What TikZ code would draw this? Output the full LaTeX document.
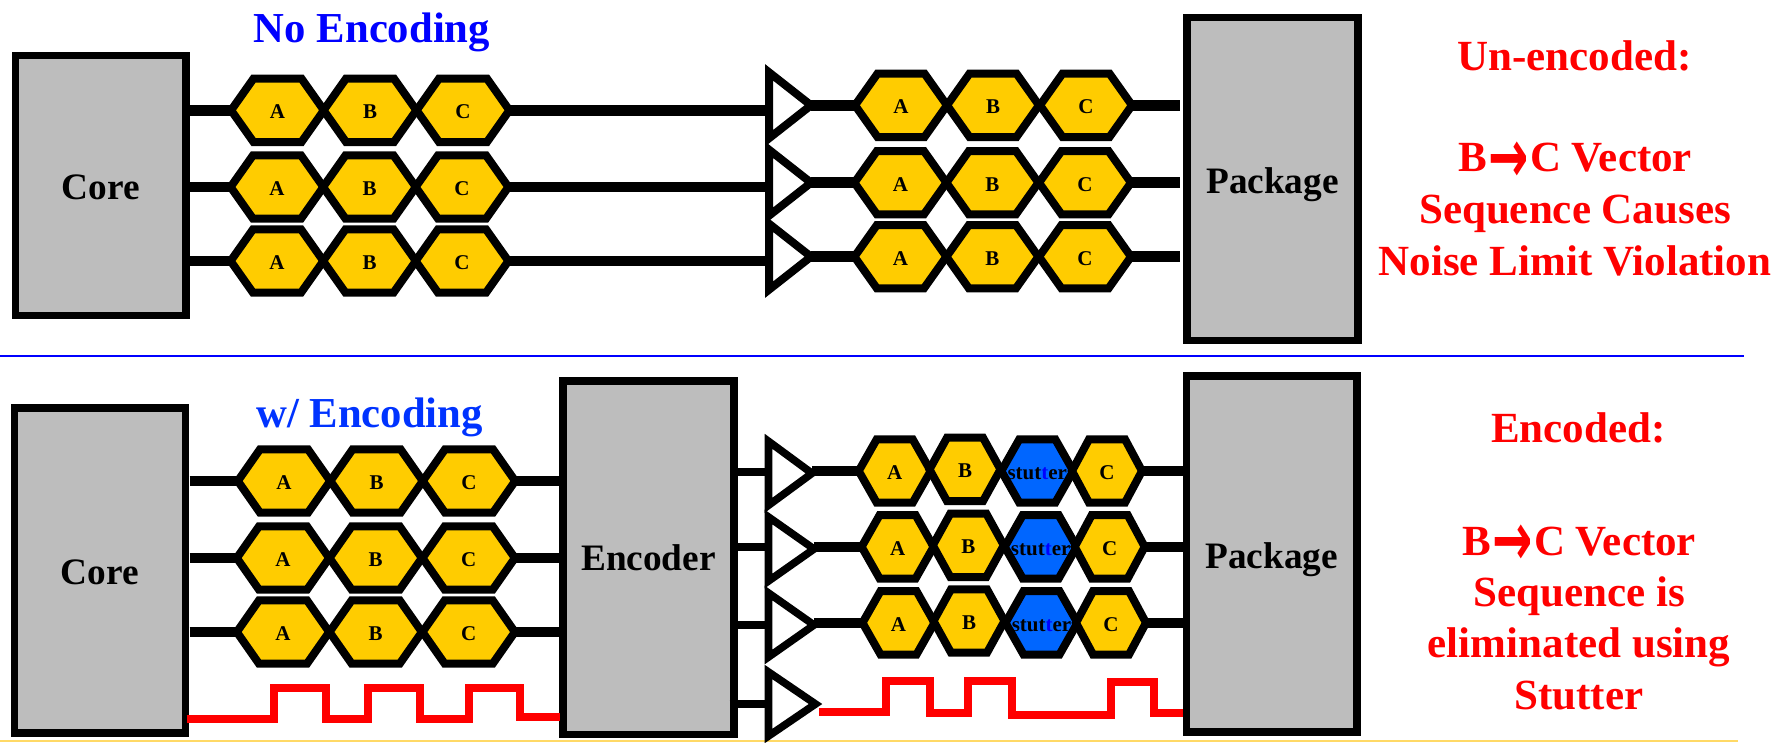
\documentclass[tikz,border=0pt]{standalone}
\usepackage{fontspec}
\usepackage{graphicx}
\setmainfont{Liberation Serif}
\newfontfamily\arrowfont{DejaVu Sans}
\definecolor{hexyellow}{HTML}{FFCC00}
\definecolor{hexblue}{HTML}{0066FF}
\definecolor{boxgray}{HTML}{BDBDBD}
\definecolor{linegold}{HTML}{FFD966}
\definecolor{headblue}{HTML}{0033FF}
\tikzset{
  blockbox/.style={draw=black,fill=boxgray,line width=7.5pt,miter limit=10,outer sep=0pt,inner sep=0pt,
    text height=0pt,text depth=0pt,font=\fontsize{37.3}{37}\selectfont\bfseries},
  hexshape/.style={draw=black,line width=8pt,line join=miter,miter limit=10},
  hexlabel/.style={inner sep=0pt,anchor=base,font=\fontsize{21}{21}\selectfont\bfseries},
  trishape/.style={draw=black,fill=white,line join=miter,miter limit=10},
  wire/.style={draw=black,line width=10.5pt},
  stub/.style={draw=black,line width=8pt},
  pulse/.style={draw=red,line width=8pt,line join=miter},
  headtext/.style={inner sep=0pt,anchor=base,font=\fontsize{42.7}{42}\selectfont\bfseries},
  notetext/.style={inner sep=0pt,anchor=base,text=red,font=\fontsize{43}{42}\selectfont\bfseries},
}
% name, cx, cy, half width, half flat, fill, label
\newcommand{\hexa}[7]{%
  \draw[hexshape,fill=#6] ({#2-#4},#3) -- ({#2-#5},{#3-31.7}) -- ({#2+#5},{#3-31.7}) -- ({#2+#4},#3)
     -- ({#2+#5},{#3+31.7}) -- ({#2-#5},{#3+31.7}) -- cycle;
  \coordinate (#1-w) at ({#2-#4},#3);
  \coordinate (#1-e) at ({#2+#4},#3);
  \node[hexlabel] (#1) at (#2,{#3+8.4}) {#7};
}
% name, left x, cy, width, half height, line width, input y
\newcommand{\tria}[7]{%
  \draw[trishape,line width=#6pt] (#2,{#3-#5}) -- ({#2+#4},#3) -- (#2,{#3+#5}) -- cycle;
  \coordinate (#1-in) at (#2,#7);
  \coordinate (#1-out) at ({#2+#4},#3);
}
\newcommand{\arrowglyph}{\hspace{1.5pt}\raisebox{-10.5pt}{\scalebox{1.12}[1.75]{\arrowfont\bfseries →}}\hspace{1.5pt}}
\begin{document}
\begin{tikzpicture}[x=1pt,y=-1pt]
\useasboundingbox (0,0) rectangle (1788,742);
% separators
\draw[blue,line width=2pt] (0,356) -- (1744,356);
\draw[linegold,line width=2pt] (0,741.2) -- (1738,741.2);
% blocks
\node[blockbox,minimum width=170.7pt,minimum height=259.8pt] (coreA) at (100.6,185.6) {\raisebox{-13.7pt}{Core}};
\node[blockbox,minimum width=171pt,minimum height=323pt] (pkgA) at (1272.5,179) {\raisebox{-14.7pt}{Package}};
\node[blockbox,minimum width=171.2pt,minimum height=325pt] (coreB) at (99.9,570.5) {\raisebox{-13.6pt}{Core}};
\node[blockbox,minimum width=171pt,minimum height=353.5pt] (enc) at (648.5,557.75) {\raisebox{-13pt}{Encoder}};
\node[blockbox,minimum width=170.5pt,minimum height=356pt] (pkgB) at (1271.7,554) {\raisebox{-14.7pt}{Package}};
% headings
\node[headtext,text=blue] (headA) at (372,42) {No Encoding};
\node[headtext,text=headblue] (headB) at (369.5,427.3) {w/ Encoding};
% top: triangles
\tria{tt1}{769}{105.3}{42}{33}{8}{111}
\tria{tt2}{769}{182.7}{42}{33}{8}{187}
\tria{tt3}{769}{256.7}{42}{33}{8}{261}
% top: left hexagons
\hexa{la1}{277.5}{110.3}{46.4}{24}{hexyellow}{A}
\hexa{lb1}{370}{110.3}{46.4}{24}{hexyellow}{B}
\hexa{lc1}{463}{110.3}{46.4}{24}{hexyellow}{C}
\hexa{la2}{277}{187}{46.4}{24}{hexyellow}{A}
\hexa{lb2}{369.5}{187}{46.4}{24}{hexyellow}{B}
\hexa{lc2}{462}{187}{46.4}{24}{hexyellow}{C}
\hexa{la3}{277}{261}{46.4}{24}{hexyellow}{A}
\hexa{lb3}{369.5}{261}{46.4}{24}{hexyellow}{B}
\hexa{lc3}{462}{261}{46.4}{24}{hexyellow}{C}
% top: right hexagons
\hexa{ra1}{901}{105.3}{46}{23.5}{hexyellow}{A}
\hexa{rb1}{993}{105.3}{46}{23.5}{hexyellow}{B}
\hexa{rc1}{1086}{105.3}{46}{23.5}{hexyellow}{C}
\hexa{ra2}{900.4}{182.7}{46}{23.5}{hexyellow}{A}
\hexa{rb2}{992.4}{182.7}{46}{23.5}{hexyellow}{B}
\hexa{rc2}{1085}{182.7}{46}{23.5}{hexyellow}{C}
\hexa{ra3}{900.4}{256.7}{46}{23.5}{hexyellow}{A}
\hexa{rb3}{992.4}{256.7}{46}{23.5}{hexyellow}{B}
\hexa{rc3}{1085}{256.7}{46}{23.5}{hexyellow}{C}
% top wires
\foreach \i in {1,2,3}{
  \draw[wire] (la\i-w -| coreA.east) -- (la\i-w);
  \draw[wire] (lc\i-e) -- (lc\i-e -| tt\i-in);
  \draw[wire] (tt\i-out) -- (ra\i-w);
  \draw[wire,shorten >=7pt] (rc\i-e) -- (rc\i-e -| pkgA.west);
}
% bottom: triangles
\tria{bt1}{768.5}{473.3}{43.5}{32}{7.6}{471.7}
\tria{bt2}{768.5}{549}{45.5}{32}{7.6}{547.3}
\tria{bt3}{768.5}{625}{45.5}{32}{7.6}{625}
\tria{bt4}{768.5}{704}{47}{32}{7.6}{704.3}
% bottom: left hexagons
\hexa{ma1}{284}{481}{46.2}{24}{hexyellow}{A}
\hexa{mb1}{376.6}{481}{46.2}{24}{hexyellow}{B}
\hexa{mc1}{469}{481}{46.2}{24}{hexyellow}{C}
\hexa{ma2}{283}{558}{46.2}{24}{hexyellow}{A}
\hexa{mb2}{375.7}{558}{46.2}{24}{hexyellow}{B}
\hexa{mc2}{468.7}{558}{46.2}{24}{hexyellow}{C}
\hexa{ma3}{283}{632}{46.2}{24}{hexyellow}{A}
\hexa{mb3}{375.7}{632}{46.2}{24}{hexyellow}{B}
\hexa{mc3}{468.7}{632}{46.2}{24}{hexyellow}{C}
% bottom: right hexagons
\hexa{sa1}{894.7}{471}{36}{18}{hexyellow}{A}
\hexa{sb1}{965}{469.4}{35.5}{18}{hexyellow}{B}
\hexa{ss1}{1037.3}{471}{36}{18}{hexblue}{stut\textcolor{blue}{t}er}
\hexa{sc1}{1107}{471}{35}{18}{hexyellow}{C}
\hexa{sa2}{897.6}{546.8}{36}{18}{hexyellow}{A}
\hexa{sb2}{968.3}{545.3}{35.5}{18}{hexyellow}{B}
\hexa{ss2}{1040.7}{546.8}{36}{18}{hexblue}{stut\textcolor{blue}{t}er}
\hexa{sc2}{1109.7}{546.8}{35}{18}{hexyellow}{C}
\hexa{sa3}{898.5}{622.8}{36}{18}{hexyellow}{A}
\hexa{sb3}{969}{621}{35.5}{18}{hexyellow}{B}
\hexa{ss3}{1041.5}{622.8}{36}{18}{hexblue}{stut\textcolor{blue}{t}er}
\hexa{sc3}{1111}{622.8}{35}{18}{hexyellow}{C}
% bottom wires
\foreach \i in {1,2,3}{
  \draw[wire] ([xshift=4pt]ma\i-w -| coreB.east) -- (ma\i-w);
  \draw[wire] (mc\i-e) -- (mc\i-e -| enc.west);
  \draw[wire,line width=9.5pt] (bt\i-out |- sa\i-w) -- (sa\i-w);
  \draw[wire,line width=9.5pt] (sc\i-e) -- (sc\i-e -| pkgB.west);
  \draw[stub] (bt\i-in -| enc.east) -- (bt\i-in);
}
\draw[stub,shorten <=-4.5pt] (bt4-in -| enc.east) -- (bt4-in);
% stutter signals
\draw[pulse] (186.6,718.7) -- (274,718.7) -- (274,687.7) -- (325.7,687.7) -- (325.7,719.3) -- (368.4,719.3)
  -- (368.4,688.3) -- (419.8,688.3) -- (419.8,719) -- (468.7,719) -- (468.7,687.7) -- (520,687.7)
  -- (520,717.3) -- (560,717.3);
\draw[pulse] (819.3,712.3) -- (886,712.3) -- (886,680.7) -- (930.4,680.7) -- (930.4,713.3) -- (967.5,713.3)
  -- (967.5,680.7) -- (1012,680.7) -- (1012,714.7) -- (1111.4,714.7) -- (1111.4,682.3) -- (1153.5,682.3)
  -- (1153.5,713.3) -- (1183,713.3);
% notes
\node[notetext] (n1) at (1574.5,70.6) {Un-encoded:};
\node[notetext] (n2) at (1575,171.7) {B\arrowglyph C Vector};
\node[notetext] (n3) at (1575,223.8) {Sequence Causes};
\node[notetext] (n4) at (1575,275) {Noise Limit Violation};
\node[notetext] (n5) at (1578.5,442.3) {Encoded:};
\node[notetext] (n6) at (1579,555) {B\arrowglyph C Vector};
\node[notetext] (n7) at (1579,606.7) {Sequence is};
\node[notetext] (n8) at (1579,657.8) {eliminated using};
\node[notetext] (n9) at (1579,709.5) {Stutter};
\end{tikzpicture}
\end{document}
